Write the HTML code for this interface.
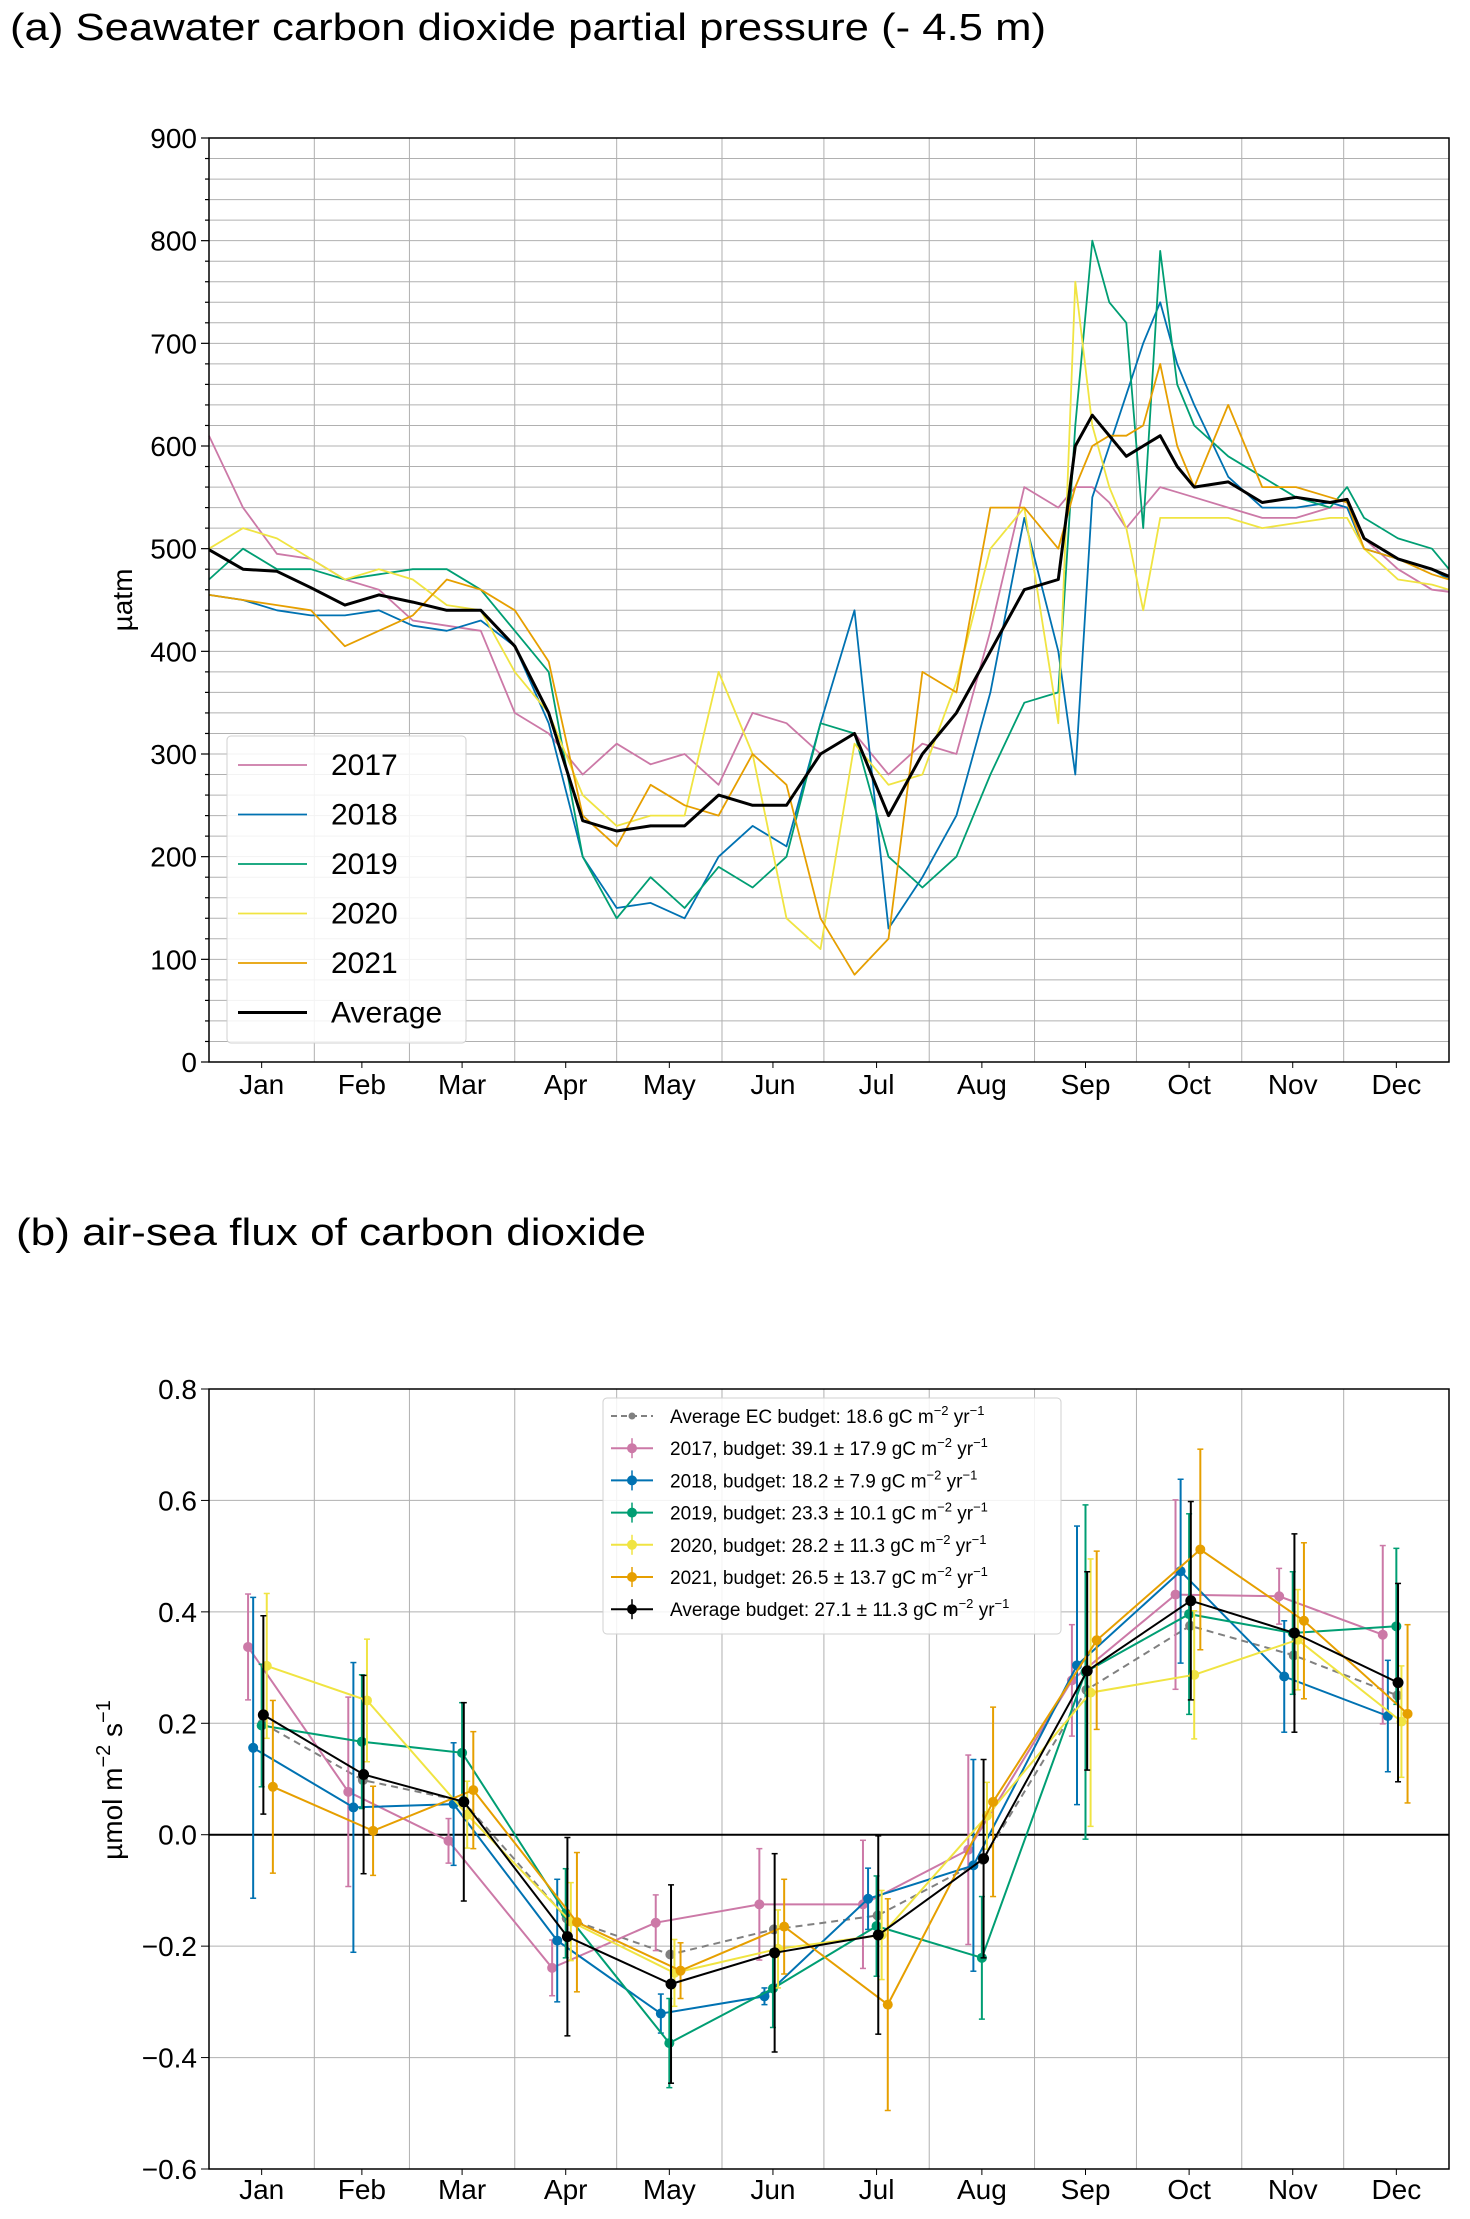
<!DOCTYPE html>
<html><head><meta charset="utf-8"><style>
body{margin:0;background:#fff}
svg{display:block;font-family:"Liberation Sans",sans-serif}
</style></head><body>
<svg id="fig" width="1470" height="2219" viewBox="0 0 1470 2219" xmlns="http://www.w3.org/2000/svg">
<text x="10" y="40" font-size="38" textLength="1036" lengthAdjust="spacingAndGlyphs">(a) Seawater carbon dioxide partial pressure (- 4.5 m)</text>
<text x="16" y="1245" font-size="38" textLength="630" lengthAdjust="spacingAndGlyphs">(b) air-sea flux of carbon dioxide</text>
<g id="pa"></g>
<g id="pb"></g>
</svg>
<script>
const months=["Jan","Feb","Mar","Apr","May","Jun","Jul","Aug","Sep","Oct","Nov","Dec"];
const monthStarts=[0,31,59,90,120,151,181,212,243,273,304,334,365];
const years=["2017","2018","2019","2020","2021"];
const colors={"2017":"#CC79A7","2018":"#0072B2","2019":"#009E73","2020":"#F0E442","2021":"#E69F00","Average":"#000000","EC":"#808080"};
// Panel (a) days and series
const daysA=[0,10,20,30,40,50,60,70,80,90,100,110,120,130,140,150,160,170,180,190,200,210,220,230,240,250,255,260,265,270,275,280,285,290,300,310,320,330,335,340,350,360,365];
const p2017=[610,540,495,490,470,460,430,425,420,340,320,280,310,290,300,270,340,330,300,320,280,310,300,420,560,540,560,560,545,520,540,560,555,550,540,530,530,540,540,510,480,460,458];
const p2018=[455,450,440,435,435,440,425,420,430,405,330,200,150,155,140,200,230,210,330,440,130,180,240,360,530,400,280,550,600,650,700,740,680,640,570,540,540,545,540,500,490,480,470];
const p2019=[470,500,480,480,470,475,480,480,460,420,380,200,140,180,150,190,170,200,330,320,200,170,200,280,350,360,620,800,740,720,520,790,660,620,590,570,550,540,560,530,510,500,480];
const p2020=[500,520,510,490,470,480,470,445,440,380,340,260,230,240,240,380,300,140,110,310,270,280,370,500,540,330,760,620,560,520,440,530,530,530,530,520,525,530,530,500,470,465,460];
const p2021=[455,450,445,440,405,420,435,470,460,440,390,240,210,270,250,240,300,270,140,85,120,380,360,540,540,500,560,600,610,610,620,680,600,560,640,560,560,550,545,500,490,475,470];
const pAvg=[499,480,478,462,445,455,448,440,440,405,340,235,225,230,230,260,250,250,300,320,240,300,340,400,460,470,600,630,610,590,600,610,580,560,565,545,550,545,548,510,490,480,473];
// Panel (b)
const off={"2017":-4,"2018":-2.5,"2019":0,"2020":1.5,"2021":3.3,"Average":0.5,"EC":0.3};
const f2017=[0.337,0.077,-0.011,-0.239,-0.158,-0.125,-0.125,-0.027,0.277,0.431,0.428,0.359];
const e2017=[0.095,0.17,0.04,0.05,0.05,0.1,0.115,0.17,0.1,0.17,0.05,0.16];
const f2018=[0.156,0.049,0.055,-0.19,-0.321,-0.29,-0.115,-0.055,0.304,0.473,0.284,0.213];
const e2018=[0.27,0.26,0.11,0.11,0.035,0.015,0.055,0.19,0.25,0.165,0.1,0.1];
const f2019=[0.196,0.167,0.147,-0.141,-0.374,-0.276,-0.164,-0.221,0.292,0.396,0.362,0.374];
const e2019=[0.11,0.12,0.09,0.08,0.08,0.07,0.09,0.11,0.3,0.18,0.11,0.14];
const f2020=[0.303,0.241,0.036,-0.156,-0.248,-0.205,-0.18,0.034,0.255,0.287,0.35,0.203];
const e2020=[0.13,0.11,0.06,0.07,0.06,0.07,0.08,0.06,0.24,0.115,0.09,0.1];
const f2021=[0.086,0.007,0.08,-0.157,-0.244,-0.165,-0.305,0.059,0.349,0.512,0.384,0.217];
const e2021=[0.155,0.08,0.105,0.125,0.05,0.085,0.19,0.17,0.16,0.18,0.14,0.16];
const fAvg=[0.215,0.108,0.059,-0.183,-0.268,-0.212,-0.18,-0.043,0.294,0.42,0.362,0.273];
const eAvg=[0.178,0.178,0.178,0.178,0.178,0.178,0.178,0.178,0.178,0.178,0.178,0.178];
const fEC=[0.2,0.098,0.06,-0.15,-0.215,-0.17,-0.145,-0.045,0.26,0.375,0.322,0.25];
const yTicksA=[0,100,200,300,400,500,600,700,800,900];
const yTicksB=[-0.6,-0.4,-0.2,0.0,0.2,0.4,0.6,0.8];
const legendB=["Average EC budget: 18.6 gC m|−2| yr|−1","2017, budget: 39.1 ± 17.9 gC m|−2| yr|−1","2018, budget: 18.2 ± 7.9 gC m|−2| yr|−1","2019, budget: 23.3 ± 10.1 gC m|−2| yr|−1","2020, budget: 28.2 ± 11.3 gC m|−2| yr|−1","2021, budget: 26.5 ± 13.7 gC m|−2| yr|−1","Average budget: 27.1 ± 11.3 gC m|−2| yr|−1"];

const NS="http://www.w3.org/2000/svg";
function mk(parent,tag,attrs){const e=document.createElementNS(NS,tag);for(const k in attrs)e.setAttribute(k,attrs[k]);parent.appendChild(e);return e;}
const L=209,R=1449;
function xDay(d){return L+d/365*(R-L);}
function midMonth(i){return (monthStarts[i]+monthStarts[i+1])/2;}

// ===== Panel A =====
const pa=document.getElementById('pa');
const aT=138,aB=1062;
function yA(v){return aB-v/900*(aB-aT);}
for(let v=0;v<=900;v+=20){
  const ln=mk(pa,'line',{x1:L,x2:R,y1:yA(v),y2:yA(v),stroke:'#b0b0b0','stroke-width':1});
  
  
  const tk=mk(pa,'line',{x1:L-(v%100===0?8:4),x2:L,y1:yA(v),y2:yA(v),stroke:'#000','stroke-width':1.2});
  
  
}
for(let i=1;i<12;i++){
  const ln=mk(pa,'line',{x1:xDay(monthStarts[i]),x2:xDay(monthStarts[i]),y1:aT,y2:aB,stroke:'#b0b0b0','stroke-width':1});
  
  
}
yTicksA.forEach(v=>{
  const t=mk(pa,'text',{x:197,y:yA(v)+10,'font-size':28,'text-anchor':'end'});
  t.textContent=v;
  
  
});
months.forEach((m,i)=>{
  const x=xDay(midMonth(i));
  const tk=mk(pa,'line',{x1:x,x2:x,y1:aB,y2:aB+6,stroke:'#000'});
  
  
  const t=mk(pa,'text',{x:x,y:1094,'font-size':28,'text-anchor':'middle'});
  t.textContent=m;
  
  
});
{const t=mk(pa,'text',{x:0,y:0,'font-size':28,'text-anchor':'middle',transform:'translate(132,600) rotate(-90)'});
t.textContent='µatm';

}
const seriesA=[["2017",p2017],["2018",p2018],["2019",p2019],["2020",p2020],["2021",p2021],["Average",pAvg]];
seriesA.forEach(([n,vals])=>{
  const pts=vals.map((v,i)=>xDay(daysA[i]).toFixed(1)+','+yA(v).toFixed(1)).join(' ');
  const pl=mk(pa,'polyline',{points:pts,fill:'none',stroke:colors[n],'stroke-width':n==='Average'?3:1.8,'stroke-linejoin':'round'});
  
  
});
{const fr=mk(pa,'rect',{x:L,y:aT,width:R-L,height:aB-aT,fill:'none',stroke:'#000','stroke-width':1.5});

}
// legend A
{const lg=mk(pa,'g',{});


mk(lg,'rect',{x:227,y:736,width:239,height:307,rx:4,fill:'#fff','fill-opacity':0.85,stroke:'#d0d0d0'});
const names=["2017","2018","2019","2020","2021","Average"];
names.forEach((n,i)=>{
  const y=765+i*49.5;
  const ln=mk(lg,'line',{x1:238,x2:307,y1:y,y2:y,stroke:colors[n],'stroke-width':n==='Average'?3:1.8});
  
  
  const t=mk(lg,'text',{x:331,y:y+10,'font-size':30});
  t.textContent=n;
  
  
});}

// ===== Panel B =====
const pb=document.getElementById('pb');
const bT=1389,bB=2169;
function yB(v){return bB-(v+0.6)/1.4*(bB-bT);}
yTicksB.forEach(v=>{
  const ln=mk(pb,'line',{x1:L,x2:R,y1:yB(v),y2:yB(v),stroke:'#b0b0b0','stroke-width':1});
  
  
  const tk=mk(pb,'line',{x1:L-8,x2:L,y1:yB(v),y2:yB(v),stroke:'#000'});
  
  
  const t=mk(pb,'text',{x:197,y:yB(v)+10,'font-size':28,'text-anchor':'end'});
  t.textContent=(v<0?'−':'')+Math.abs(v).toFixed(1);
  
  
});
for(let i=1;i<12;i++){
  const ln=mk(pb,'line',{x1:xDay(monthStarts[i]),x2:xDay(monthStarts[i]),y1:bT,y2:bB,stroke:'#b0b0b0','stroke-width':1});
  
  
}
months.forEach((m,i)=>{
  const x=xDay(midMonth(i));
  const tk=mk(pb,'line',{x1:x,x2:x,y1:bB,y2:bB+6,stroke:'#000'});
  
  
  const t=mk(pb,'text',{x:x,y:2199,'font-size':28,'text-anchor':'middle'});
  t.textContent=m;
  
  
});
{const zl=mk(pb,'line',{x1:L,x2:R,y1:yB(0),y2:yB(0),stroke:'#000','stroke-width':2});

}
{const t=mk(pb,'text',{x:0,y:0,'font-size':28,'text-anchor':'middle',transform:'translate(122,1780) rotate(-90)'});
t.innerHTML='µmol m<tspan dy="-12" font-size="20">−2</tspan><tspan dy="12"> s</tspan><tspan dy="-12" font-size="20">−1</tspan>';

}
const seriesB=[["EC",fEC,null],["2017",f2017,e2017],["2018",f2018,e2018],["2019",f2019,e2019],["2020",f2020,e2020],["2021",f2021,e2021],["Average",fAvg,eAvg]];
seriesB.forEach(([n,vals,errs])=>{
  const g=mk(pb,'g',{});
  
  
  const xs=vals.map((v,i)=>xDay(midMonth(i)+off[n]));
  if(errs){vals.forEach((v,i)=>{
    const eb=mk(g,'line',{x1:xs[i],x2:xs[i],y1:yB(v+errs[i]),y2:yB(v-errs[i]),stroke:colors[n],'stroke-width':2});
    
    
    [v+errs[i],v-errs[i]].forEach(c=>{mk(g,'line',{x1:xs[i]-3,x2:xs[i]+3,y1:yB(c),y2:yB(c),stroke:colors[n],'stroke-width':1.5});});
  });}
  const pts=vals.map((v,i)=>xs[i].toFixed(1)+','+yB(v).toFixed(1)).join(' ');
  const pl=mk(g,'polyline',{points:pts,fill:'none',stroke:colors[n],'stroke-width':2,'stroke-dasharray':n==='EC'?'7,5':'none'});
  
  
  vals.forEach((v,i)=>{
    const c=mk(g,'circle',{cx:xs[i],cy:yB(v),r:n==='Average'?5.5:5,fill:colors[n]});
    
    
  });
});
{const fr=mk(pb,'rect',{x:L,y:bT,width:R-L,height:bB-bT,fill:'none',stroke:'#000','stroke-width':1.5});

}
{const lg=mk(pb,'g',{});


mk(lg,'rect',{x:603,y:1398,width:458,height:236,rx:4,fill:'#fff','fill-opacity':0.85,stroke:'#d0d0d0'});
const keys=["EC","2017","2018","2019","2020","2021","Average"];
keys.forEach((n,i)=>{
  const y=1416+i*32.2;
  mk(lg,'line',{x1:611,x2:653,y1:y,y2:y,stroke:colors[n],'stroke-width':2,'stroke-dasharray':n==='EC'?'6,4':'none'});
  if(n!=='EC'){mk(lg,'line',{x1:632,x2:632,y1:y-10,y2:y+10,stroke:colors[n],'stroke-width':1.5});}
  mk(lg,'circle',{cx:632,cy:y,r:n==='EC'?3.5:5,fill:colors[n]});
  const parts=legendB[i].split('|');
  const t=mk(lg,'text',{x:670,y:y+7,'font-size':19});
  t.innerHTML=parts[0]+'<tspan dy="-8" font-size="13">'+parts[1]+'</tspan><tspan dy="8">'+parts[2]+'</tspan><tspan dy="-8" font-size="13">'+parts[3]+'</tspan>';
  
  
});}
</script>
</body></html>
